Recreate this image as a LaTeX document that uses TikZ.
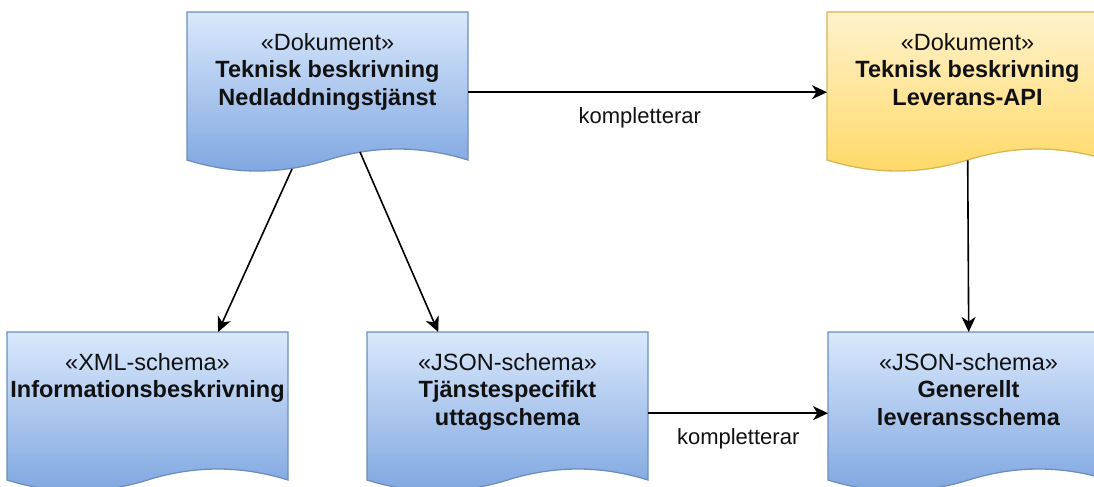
\documentclass[tikz,border=0pt]{standalone}
\usepackage{fontspec}
\setmainfont{Liberation Sans}
\usetikzlibrary{arrows.meta,calc}
\definecolor{blueTop}{HTML}{DAE8FC}
\definecolor{blueBot}{HTML}{7EA6E0}
\definecolor{blueLine}{HTML}{6C8EBF}
\definecolor{yelTop}{HTML}{FFF2CC}
\definecolor{yelBot}{HTML}{FFD966}
\definecolor{yelLine}{HTML}{D6B656}
\definecolor{txt}{HTML}{111111}
\begin{document}
\begin{tikzpicture}[x=1bp,y=-1bp,
  bluedoc/.style={draw=blueLine, line width=1.3bp, top color=blueTop, bottom color=blueBot},
  yeldoc/.style={draw=yelLine, line width=1.3bp, top color=yelTop, bottom color=yelBot},
  docpath/.style={insert path={(0,0) -- (281,0) -- (281,148) .. controls (234.17,133.33) and (187.33,133.33) .. (140.5,148) .. controls (93.67,162.67) and (46.83,162.67) .. (0,148) -- cycle}},
  anchorbox/.style={rectangle, inner sep=0pt, minimum width=281bp, minimum height=148bp, anchor=north west},
  doctext/.style={anchor=north, align=center, inner sep=0pt, text=txt, font=\fontsize{23.5bp}{27.5bp}\selectfont},
  conn/.style={-{Stealth[length=15bp,width=14bp,inset=4.5bp]}, line width=1.6bp, draw=black},
  lbl/.style={anchor=north, inner sep=0pt, text=txt, font=\fontsize{22bp}{27bp}\selectfont}
]
\useasboundingbox (0,0) rectangle (1094,487);
\clip (0,0) rectangle (1094,487);

% top left
\begin{scope}[shift={(187,12)}]
  \path[bluedoc, docpath];
  \node[anchorbox] (tl) at (0,0) {};
  \node[doctext] (tlt) at (140.5,21) {«Dokument»\\\textbf{Teknisk beskrivning}\\\textbf{Nedladdningstjänst}};
  \coordinate (tlw1) at (105,157);
  \coordinate (tlw2) at (173,140);
\end{scope}

% top right
\begin{scope}[shift={(827,12)}]
  \path[yeldoc, docpath];
  \node[anchorbox] (tr) at (0,0) {};
  \node[doctext] (trt) at (140.5,21) {«Dokument»\\\textbf{Teknisk beskrivning}\\\textbf{Leverans-API}};
\end{scope}

% bottom left
\begin{scope}[shift={(7,332)}]
  \path[bluedoc, docpath];
  \node[anchorbox] (bl) at (0,0) {};
  \node[doctext] (blt) at (140.5,21) {«XML-schema»\\\textbf{Informationsbeskrivning}};
\end{scope}

% bottom middle
\begin{scope}[shift={(367,332)}]
  \path[bluedoc, docpath];
  \node[anchorbox] (bm) at (0,0) {};
  \node[doctext] (bmt) at (140.5,21) {«JSON-schema»\\\textbf{Tjänstespecifikt}\\\textbf{uttagschema}};
\end{scope}

% bottom right
\begin{scope}[shift={(828,332)}]
  \path[bluedoc, docpath];
  \node[anchorbox] (br) at (0,0) {};
  \node[doctext] (brt) at (140.5,21) {«JSON-schema»\\\textbf{Generellt}\\\textbf{leveransschema}};
\end{scope}

% connectors
\draw[conn] (tlw1) -- ($(bl.north west)!0.75!(bl.north east)$);
\draw[conn] (tlw2) -- ($(bm.north west)!0.253!(bm.north east)$);
\draw[conn] ([yshift=-6bp]tl.east) -- node[lbl, pos=0.478, yshift=-15bp] (k1) {kompletterar} ([yshift=-6bp]tr.west);
\draw[conn] (tr.south) -- (br.north);
\draw[conn] ([yshift=-7bp]bm.east) -- node[lbl, pos=0.5, yshift=-15bp] (k2) {kompletterar} ([yshift=-7bp]br.west);
\end{tikzpicture}
\end{document}
